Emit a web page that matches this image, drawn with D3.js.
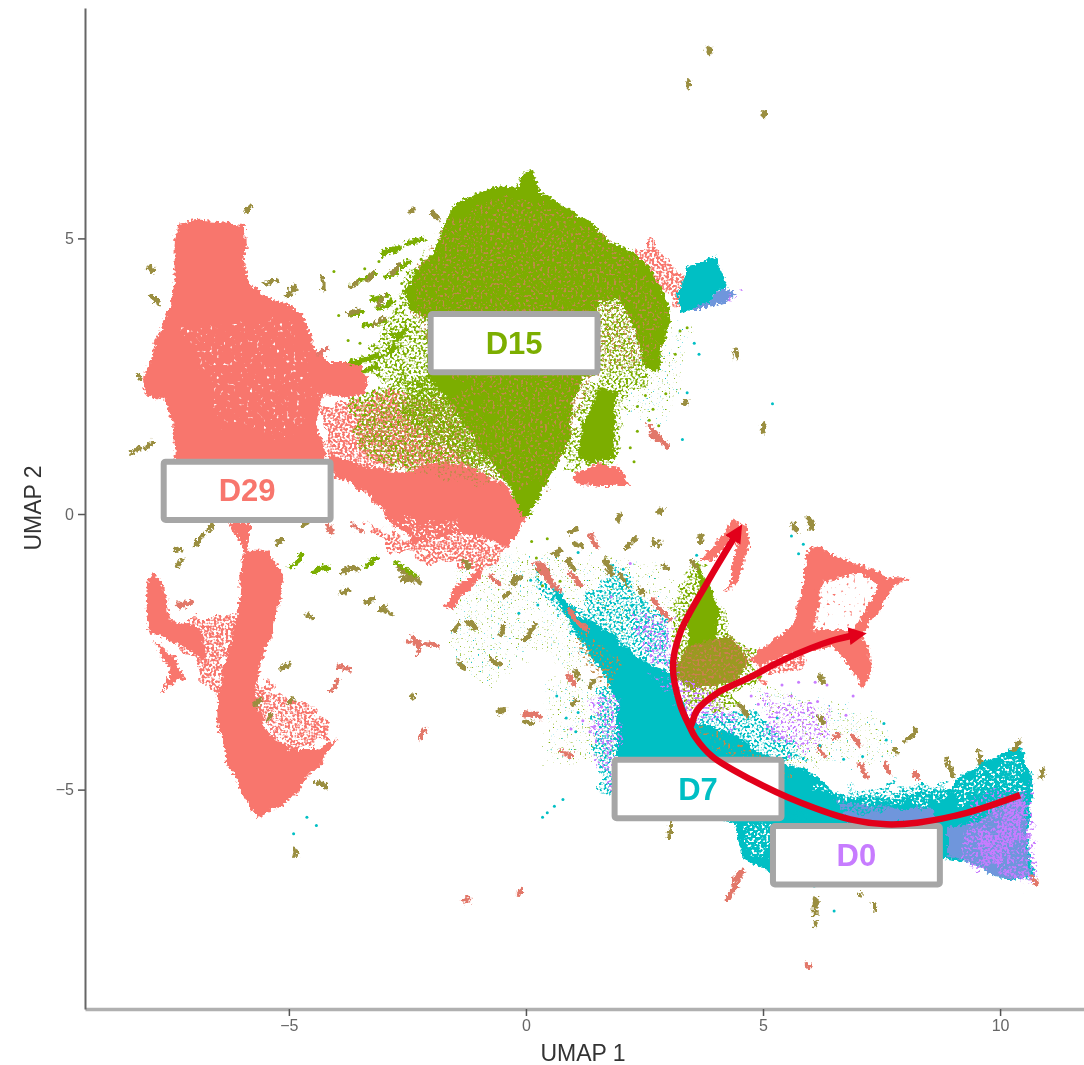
<!DOCTYPE html>
<html><head><meta charset="utf-8"><script src="https://cdn.jsdelivr.net/npm/d3@7/dist/d3.min.js"></script>
<style>html,body{margin:0;padding:0;background:#fff}svg{display:block}text{font-family:"Liberation Sans",Arial,sans-serif}</style></head>
<body><svg id="c" width="1084" height="1065"></svg>
<script>
const xTicks=[-5,0,5,10], yTicks=[-5,0,5];
const dayLabels=["D29","D15","D7","D0"];
const labelCentres=[[-5.88,0.42],[-0.25,3.10],[3.63,-4.99],[6.97,-6.19]];
const trajectoryStem=[[10.42,-5.1],[9.3,-5.42],[8.25,-5.6],[7.6,-5.63],[6.84,-5.54],[5.8,-5.24],[4.75,-4.82],[3.93,-4.4],[3.57,-4.05],[3.46,-3.87],[3.25,-3.45],[3.1,-2.78],[3.25,-2.16],[3.82,-1.25],[4.46,-.33]];
const trajectoryBranch=[[3.46,-3.87],[3.5,-3.8],[3.61,-3.56],[4.03,-3.25],[4.73,-2.96],[5.42,-2.65],[6.48,-2.29],[7,-2.19]];

const d29Solid=[
[[-7.34,5.26],[-6.88,5.32],[-5.93,5.26],[-5.91,4.88],[-5.97,4.57],[-5.82,4.21],[-5.57,3.96],[-4.98,3.79],[-4.7,3.59],[-4.56,3.25],[-4.43,2.94],[-4.14,2.76],[-3.46,2.76],[-3.33,2.47],[-3.46,2.16],[-3.82,2.11],[-4.3,2.14],[-4.43,1.71],[-4.3,1.25],[-4.14,.8],[-4.77,.62],[-7.41,.62],[-7.41,1.52],[-7.62,2.03],[-8,2.16],[-8.08,2.43],[-7.89,2.98],[-7.55,3.7],[-7.41,4.07],[-7.41,4.88]],
[[-4.14,1.07],[-3.3,.85],[-2.51,.75],[-1.9,.95],[-1.33,.9],[-.49,.6],[.02,-.05],[-.4,-.6],[-1.33,-.34],[-2.38,-.53],[-2.93,-.05],[-3.44,.44],[-4.07,.67]],
[[-6.24,-.16],[-5.82,-.16],[-5.89,-.65],[-5.46,-.65],[-5.19,-1.02],[-5.13,-1.43],[-5.4,-2.29],[-5.68,-2.96],[-5.68,-3.5],[-5.4,-4.05],[-4.83,-4.28],[-4.41,-4.28],[-3.97,-4.05],[-4.41,-4.59],[-5.04,-5.25],[-5.68,-5.5],[-5.97,-5.14],[-6.31,-4.47],[-6.5,-3.87],[-6.52,-3.32],[-6.41,-2.83],[-6.2,-2.29],[-6.1,-1.8],[-6.03,-1.2],[-5.97,-.65]],
[[-7.87,-1.07],[-7.66,-1.32],[-7.51,-1.87],[-6.84,-2.11],[-6.7,-2.7],[-7.09,-2.52],[-7.66,-2.23],[-7.93,-2.16],[-8,-1.69],[-7.97,-1.2]],
[[-7.85,-2.3],[-7.4,-2.6],[-7.2,-3],[-7.35,-3],[-7.66,-3.25],[-7.5,-2.8],[-7.72,-2.5]],
[[3.67,-.89],[4.37,-.11],[4.66,-.24],[4.68,-.6],[4.45,-1.25],[4.24,-1.43],[4.37,-.96],[4.47,-.53],[4.37,-.38],[3.95,-.83]],
[[4.66,-2.65],[5.63,-2.05],[5.82,-1.38],[5.99,-.6],[6.2,-.53],[6.48,-.74],[7.68,-1.14],[8.1,-1.16],[7.74,-1.32],[7.41,-1.8],[7.11,-2.16],[7.32,-2.78],[7.11,-3.19],[6.84,-2.78],[6.48,-2.41],[5.42,-2.52],[4.94,-2.78]],
[[.93,.67],[1.5,.93],[1.92,.85],[2.19,.53],[1.56,.49],[1.14,.53]],
[[-.95,-1],[-1,-1.2],[-1.55,-1.72],[-1.75,-1.65],[-1.4,-1.2]]
];
const loopHole=[[6.27,-1.25],[7.05,-1.07],[7.47,-1.32],[7.11,-1.8],[6.9,-2.11],[6.05,-2.11],[6.14,-1.69]];
const d15Solid=[
[[-1.75,5.21],[-1.54,5.57],[-1.12,5.79],[-.55,5.94],[-.17,5.92],[-.08,6.21],[.15,6.24],[.3,5.84],[.65,5.66],[1.29,5.34],[1.77,4.94],[2.26,4.74],[2.68,4.37],[2.97,3.94],[3.04,3.58],[2.89,3.03],[2.76,2.56],[2.51,2.65],[2.32,3.21],[1.98,3.88],[1.56,3.88],[1.5,3.52],[1.5,2.52],[1.24,2.47],[.99,2.07],[.93,1.34],[.61,.8],[.3,.34],[.08,-.05],[-.08,-.07],[-.35,.5],[-.75,.95],[-1.2,1.5],[-1.7,2.1],[-2.07,2.47],[-2.07,3.52],[-2.45,3.7],[-2.51,4.07],[-2.34,4.43],[-1.96,4.74]],
[[1.56,2.3],[1.92,2.25],[1.84,1.4],[1.92,1.03],[1.35,.93],[1.08,1.11],[1.2,1.58]],
[[3.61,-.89],[3.84,-1.25],[4.09,-1.8],[3.95,-2.34],[3.4,-2.42],[3.4,-2.05],[3.67,-1.38]]
];
const d15Dense=[[[-2.7,2.5],[-1.7,2.5],[-1.2,1.6],[-.7,.9],[-1.2,.95],[-2,1.3],[-2.6,1.8]]];
const oliveSolid=[[[3.1,-2.72],[3.4,-2.42],[3.82,-2.29],[4.37,-2.23],[4.68,-2.59],[4.51,-2.96],[3.95,-3.14],[3.46,-3.14],[3.2,-3]]];
const d7Solid=[
[[.6,-1.35],[1.08,-1.8],[1.77,-2.16],[2.47,-2.65],[3.1,-2.89],[3.46,-3.74],[4.37,-3.97],[4.94,-4.34],[5.93,-4.65],[6.48,-5.01],[6.98,-5.14],[7.68,-5.14],[8.25,-5.01],[8.95,-4.95],[9.3,-4.7],[10,-4.37],[10.42,-4.16],[10.57,-4.52],[10.7,-4.88],[10.57,-5.79],[10.74,-6.64],[10,-6.59],[9.3,-6.33],[8.8,-6.23],[5.15,-6.52],[4.58,-6.23],[4.37,-5.61],[3.67,-5.5],[1.92,-5],[1.92,-4.23],[1.92,-3.38],[1.62,-2.89],[1.08,-2.16],[.6,-1.5]],
[[3.52,4.55],[3.99,4.66],[4.24,4.12],[3.67,3.76],[3.25,3.65],[3.19,4.01],[3.4,4.48]]
];
const blueMix=[
[[10.49,-5.07],[10.63,-6.59],[10,-6.59],[9.3,-6.33],[8.88,-6.15],[8.88,-5.73],[9.64,-5.5]],
[[6.48,-5.19],[7.3,-5.3],[8.59,-5.37],[8.59,-5.61],[6.84,-5.61]],
[[3.52,3.7],[4.2,4.07],[4.45,3.97],[4.26,3.88],[3.67,3.7]]
];
const d0Solid=[
[[10.4,-5.15],[10.55,-5.9],[10.1,-6],[9.85,-5.6]],
[[9.3,-5.8],[10.2,-5.8],[10.25,-6.3],[9.6,-6.25]],
[[10,-6.4],[10.65,-6.55],[10.6,-6.7],[10.05,-6.6]],
[[4.25,3.98],[4.45,3.97],[4.3,3.86]]
];
const d15Speck=[
[[-3.4,2.6],[-3.1,3.3],[-2.75,3.7],[-2.45,4.4],[-2.1,4.7],[-2.45,3.7],[-2.07,3.5],[-2.07,2.4],[-2.8,2.3]],
[[-3.8,2.2],[-1.5,2.5],[-.9,2],[-.4,1.2],[-.25,.5],[-1.3,.9],[-2.5,.75],[-3.5,1.1]],
[[1.5,3.95],[1.98,3.9],[2.32,3.21],[2.55,2.6],[2.5,2.2],[1.5,2.5]],
[[1.24,2.47],[2.2,2.4],[2.05,1.6],[1.9,.95],[1.35,.93],[.75,.7],[.95,1.4]],
[[3.2,-1.2],[3.6,-.9],[4.2,-1.8],[4.3,-2.3],[4.9,-2.4],[4.9,-3],[4,-3.6],[3.3,-3.4],[3.1,-2.6]]
];
const d29Speck=[
[[-4.4,1.9],[-3.6,2.1],[-2.6,2.2],[-1.6,2],[-1.4,1.3],[-1.2,.9],[-2.5,.8],[-4.1,1]],
[[-3.4,-.1],[-2.4,-.5],[-1.3,-.35],[-.4,-.6],[-.7,-1],[-1.8,-.9],[-2.9,-.6]],
[[-7.51,-1.87],[-6.52,-1.87],[-6.1,-1.8],[-6.41,-2.83],[-6.52,-3.32],[-6.77,-3],[-7.09,-2.57],[-7.51,-2.1]],
[[-5.6,-2.9],[-5.1,-3.3],[-4.4,-3.6],[-3.97,-4.05],[-5,-4.3],[-5.7,-3.7]],
[[5.9,-2.5],[4.9,-2.6],[4.9,-3],[5.9,-2.8]],
[[2.3,4.9],[2.8,4.9],[3.3,4.3],[3.3,3.8],[2.4,4.3]]
];
const loopInner=[[6.1,-2.1],[7.1,-2.1],[7.45,-1.3],[7.05,-1],[6.7,-1.1],[6.2,-1.3]];
const mixSpeck=[
[[-1.75,5.21],[-.55,5.8],[.65,5.6],[2.2,4.7],[2.9,3.8],[2.7,2.7],[1.5,2.6],[.9,1.3],[.4,.5],[-.4,.6],[-.9,2],[-1.5,2.5],[-2.4,3.6],[-2.3,4.4]],
[[-2.6,2.1],[-1.2,2.2],[-.5,1],[-.5,.5],[-2,.7],[-3.3,.9],[-3.6,1.6]],
[[1.2,-2],[2,-2.7],[1.7,-3.2],[1,-2.4]],
[[3.5,-3.8],[5,-4.4],[5.8,-4.7],[5.3,-4.7],[4.2,-4.3]]
];
const d7Speck=[
[[1,-1.8],[1.9,-.95],[2.9,-1.9],[3.1,-2.9],[2.4,-2.65],[1.7,-2.2]],
[[.1,-.9],[.9,-1.7],[1.5,-2.9],[.9,-2],[.2,-1.3]],
[[3.4,-3.7],[4.8,-3.5],[6,-4.5],[5,-4.5]],
[[5,-5.5],[6.5,-5.1],[7,-5],[8.6,-4.9],[9,-4.8],[8.6,-5.2],[6,-5.6]],
[[1.5,-3.2],[1.9,-3.2],[1.9,-5],[1.5,-5]]
];
const d0Speck=[
[[2.6,-2.9],[4,-3.2],[4.5,-3.9],[3.6,-3.8]],
[[1.3,-3.2],[1.95,-3.4],[1.9,-5],[1.6,-4.8]],
[[5,-3.3],[6.5,-3.6],[6,-4.4],[5,-4]],
[[9.3,-5.2],[10.7,-4.9],[10.75,-6.7],[9.3,-6.35]],
[[2.2,-1.6],[3.1,-2],[3.2,-3],[2.5,-2.6]]
];
const whiteFew=[[[-7.2,3.4],[-5,3.5],[-4.4,2.3],[-5,1.3],[-6.5,1.7]]];
const whiteGaps=[
[[-2.8,-.05],[-2,-.2],[-1.3,-.05],[-1.4,-.35],[-2.3,-.45]],
[[-5.4,-3.3],[-4.4,-3.9],[-5,-4.2],[-5.5,-3.9]],
[[6,-4.9],[9,-5],[9.9,-4.5],[10.5,-4.3],[10.5,-5],[8,-5.3],[6.6,-5.2]],
[[4.6,-5.6],[5.1,-5.6],[5.1,-6.2],[4.7,-6.2]]
];
const haze=[
[[-.6,-.7],[2.8,-.9],[3.4,-2],[2,-2.2],[1,-2.9],[0,-2.3]],
[[-1.5,-1],[-.2,-.6],[.2,-2.4],[-.8,-3.2],[-1.6,-2.5]],
[[.4,-3],[1.9,-3],[1.9,-4.6],[.4,-4.5]],
[[4.8,-3.1],[7.5,-3.7],[7.8,-4.5],[5.5,-4.6]],
[[2.2,3.4],[3.4,3.4],[3.2,2.2],[2.8,1.6],[2.1,1.8]]
];
const greenDabs=[[-3.02,4.7,-2.66,4.85],[-2.55,4.92,-2.17,4.97],[-3.71,4.16,-3.19,4.34],[-3.25,3.88,-2.91,3.97],[-3.12,3.74,-2.83,3.83],[-3.67,3.61,-3.46,3.67],[-3.4,3.43,-2.97,3.48],[-2.83,3.3,-2.72,3.25],[-3.71,2.76,-3.08,2.87],[-2.7,-.9,-2.3,-1.15],[-4.95,-.92,-4.72,-.75],[-4.45,-1.05,-4.2,-1],[-3.4,-.95,-3.2,-.8],[-2.7,3.2,-2.55,3.35],[-2.9,2.95,-2.75,3.05],[-3.35,2.6,-3.2,2.68],[-2.95,4.3,-2.75,4.4],[-2.6,4.45,-2.45,4.55]];
const olivePts=[[3.84,8.37,3.88,8.42],[3.42,7.74,3.46,7.82],[4.98,7.2,5.03,7.28],[4.41,2.94,4.43,2.85],[4.98,1.66,4.96,1.52],[3.31,2.01,3.35,2.06],[-7.97,4.48,-7.85,4.42],[-7.92,3.95,-7.75,3.85],[-8.19,2.5,-8.15,2.45],[-8.3,1.12,-8.15,1.2],[-8.02,1.2,-7.9,1.28],[-5.89,5.48,-5.82,5.55],[-2.45,5.48,-2.35,5.55],[-1.95,5.44,-1.85,5.36],[-5.5,4.2,-5.3,4.25],[-5.02,3.97,-4.9,4.1],[-4.3,4.1,-4.3,4.25],[-3.72,4.14,-3.58,4.2],[-3.35,4.25,-3.22,4.36],[-3.1,3.85,-3,3.95],[-3.7,3.62,-3.55,3.7],[-3.2,3.45,-3,3.53],[-2.85,4.4,-2.7,4.5],[-3.85,-1.05,-3.55,-.98],[-2.65,-1,-2.2,-1.25],[-2.6,-1.2,-2.4,-1.15],[-3.9,-1.42,-3.8,-1.38],[-4.62,-1.87,-4.5,-1.9],[-3.33,-1.62,-3.25,-1.55],[-3.04,-1.76,-3,-1.68],[-5.15,-2.8,-5,-2.72],[-2.4,-3.34,-2.35,-3.3],[-5.44,-3.72,-5.38,-3.62],[-5.7,-3.45,-5.62,-3.35],[-4.98,-3.43,-4.92,-3.37],[-7.35,-.98,-7.25,-.85],[-7.42,-.65,-7.3,-.6],[-6.95,-.55,-6.85,-.4],[-6.7,-.28,-6.6,-.2],[-4.7,-.22,-4.6,-.18],[-5.2,-.55,-5.15,-.48],[-1.3,-.82,-1.2,-.95],[-2.62,-1.14,-2.35,-1.2],[-2.95,-1.75,-2.8,-1.8],[-.25,-1.25,-.1,-1.15],[.25,-1.05,.45,-1],[1.03,-.56,1.15,-.6],[2.1,-.58,2.35,-.48],[2.78,.04,2.85,.1],[2.41,-1.38,2.48,-1.42],[2.93,-.93,3,-.98],[3.52,-.9,3.6,-1],[1.92,-.11,1.98,-.05],[.9,-.35,1.1,-.3],[2.7,-.52,2.8,-.55],[3.65,-.4,3.68,-.5],[.58,-.75,.72,-.67],[.92,-.82,1.02,-1],[1.68,-.85,1.82,-1.1],[2,-1.1,2.12,-1.28],[-.02,-2.28,.2,-2.05],[-.45,-1.5,-.35,-1.4],[-.55,-2.2,-.45,-2],[-.6,-3.6,-.45,-3.55],[0,-3.75,.12,-3.8],[.97,-3.45,1.05,-3.4],[1.35,-3.15,1.45,-3.05],[4.52,-3.48,4.68,-3.68],[6.2,-3.7,6.3,-3.8],[6.22,-2.93,6.27,-3],[5.93,-.08,6.02,-.26],[5.62,-.22,5.7,-.3],[8.02,-4.12,8.22,-3.92],[7.75,-4.3,7.85,-4.35],[8.88,-4.45,8.98,-4.75],[9.52,-4.33,9.62,-4.52],[10.3,-4.25,10.45,-4.1],[10.85,-4.75,10.9,-4.65],[3.05,-5.58,3.04,-5.85],[6.1,-7,6.1,-7.25],[6.1,-7.42,6.1,-7.45],[7.3,-7.08,7.33,-7.15],[7.05,-6.9,7.07,-6.93],[-.7,-2.6,-.6,-2.72],[-1.5,-2.1,-1.42,-2.02],[-1.2,-1.95,-1.1,-2.05],[-1.42,-2.7,-1.33,-2.8],[1.05,-2.88,1.12,-2.95],[-4.4,-4.85,-4.25,-4.95],[-4.9,-6.08,-4.85,-6.18]];
const salmonPts=[[-4.2,-.2,-4.05,-.35],[-3.65,-.2,-3.45,-.3],[-4.4,2.9,-4.2,3],[-7.3,-1.65,-7.05,-1.6],[-2.5,-2.3,-1.9,-2.42],[-2.35,-2.2,-2.25,-2.55],[-3.9,-2.75,-3.72,-2.85],[-4.08,-3.18,-3.98,-3.02],[-2.22,-4.08,-2.12,-3.92],[-1.3,-7.04,-1.2,-7],[-.16,-6.9,-.1,-6.86],[-.02,-3.62,.28,-3.68],[.72,-4.3,.98,-4.4],[.88,-2.92,1.02,-3.08],[4.25,-6.98,4.55,-6.48],[5.93,-8.15,5.98,-8.18],[6.2,-4.25,6.3,-4.4],[7.02,-4.53,7.18,-4.77],[7.6,-4.55,7.68,-4.7],[6.48,-4.05,6.6,-4],[6.9,-4.05,7,-4.15],[10.65,-6.6,10.75,-6.7],[1.37,-.37,1.48,-.58],[2.68,-1.55,3,-1.9],[.92,-1.08,1.13,-1.32],[2.66,1.43,2.95,1.25],[2.6,1.6,2.75,1.4],[-.75,-1.1,-.55,-1.25],[.32,-.92,.52,-1.18],[8.2,-4.7,8.3,-4.8],[.2,-.9,.7,-1.4],[.9,-1.75,1.3,-2.1]];
const d15Pts=[[-3.3,2.62],[-3.5,3.1],[-3.22,3.9],[-2.9,3.1],[-2.72,3.72],[-2.55,2.9],[-2.3,3.3],[-2.62,4.18],[-2.21,4.62],[-3.1,2.52],[-3.75,3.15],[-3.95,3.6],[-4.05,4.4],[-3.1,4.58],[-3.4,4.45],[.12,-.5],[.22,-.8],[.45,-.45],[.35,-1.3],[.72,-1.22],[2.52,2.15],[2.35,1.95],[2.6,1.7],[2.8,1.6],[2.95,2.18],[3.15,2.9],[3.25,3.32],[3.4,3.38],[2.68,1.9],[2.2,1.2],[2.28,.95],[2.35,1.5]];
const d7Pts=[[-4.62,-5.5],[-4.42,-5.65],[-4.9,-5.8],[.35,-5.5],[.6,-5.3],[.45,-5.42],[.78,-5.18],[1.1,-3.6],[1.05,-3.95],[.65,-3.3],[.85,-3.7],[3.6,-.75],[5.6,-.4],[5.85,-.55],[5.75,-.72],[2.05,-1],[2.45,-1.6],[2.25,-1.65],[.55,-1.55],[.25,-1.65],[.1,-1.2],[-.15,-1.8],[1.1,-.7],[4.85,-3.6],[5.3,-3.7],[6.2,-4.2],[6.7,-4.45],[7.1,-4.4],[6.5,-7.2],[3.65,2.9],[3.55,3.1],[3.4,2.2],[3.3,1.35],[5.2,2],[6.15,-6.6],[6.08,-6.75],[7.55,-3.8],[7.6,-4.1]];
const d0Pts=[[1.6,-3.5],[1.2,-3.75],[.95,-3.9],[1.35,-3.95],[1.45,-3.85],[1.85,-3.3],[4.75,-3.3],[4.9,-3.45],[5.6,-3.3],[5.75,-3.05],[5.4,-3.1],[6.1,-3.05],[6.35,-3.1],[5.2,-3.9],[5.4,-4.05],[6.9,-3.3],[2.2,-.9],[2.5,-2.05],[1.8,-1.5],[6.15,-3.4],[5.55,-4.4],[6.75,-3.65]];

const svg=d3.select("#c");
const x=d3.scaleLinear().domain([-9.3,11.77]).range([85,1084]);
const y=d3.scaleLinear().domain([-8.98,9.18]).range([1009,8]);
const colours={d29:"#F8766D",d15:"#7CAE00",d7:"#00BFC4",d0:"#C77CFF",blue:"#6f96dc",olive:"#9a9a20",mix:"#c08a4a",brown:"#9a8e40"};
const defs=svg.append("defs");
const fattr={filterUnits:"userSpaceOnUse",x:0,y:0,width:1084,height:1065};
function newFilter(id){const f=defs.append("filter").attr("id",id).attr("color-interpolation-filters","sRGB");Object.entries(fattr).forEach(([k,v])=>f.attr(k,v));return f;}
function addFilter(id,seed,freq,gain,off,blur){
  const f=newFilter(id);
  f.append("feTurbulence").attr("type","fractalNoise").attr("baseFrequency",.07).attr("numOctaves",2).attr("seed",seed+20).attr("result","w");
  f.append("feDisplacementMap").attr("in","SourceGraphic").attr("in2","w").attr("scale",28).attr("xChannelSelector","R").attr("yChannelSelector","G").attr("result","sg");
  f.append("feTurbulence").attr("type","fractalNoise").attr("baseFrequency",freq).attr("numOctaves",1).attr("seed",seed).attr("result","n");
  f.append("feColorMatrix").attr("in","n").attr("type","matrix").attr("values",`0 0 0 0 0 0 0 0 0 0 0 0 0 0 0 ${gain} 0 0 0 ${off}`).attr("result","m");
  f.append("feComposite").attr("in","sg").attr("in2","m").attr("operator","in").attr("result","s");
  f.append("feGaussianBlur").attr("in","s").attr("stdDeviation",blur);
}
addFilter("spDense",3,.42,7,-2.9,.45);
addFilter("spMid",7,.42,7,-3.3,.45);
addFilter("spSparse",11,.42,8,-4.2,.45);
addFilter("spMix",13,.42,8,-4.4,.5);
addFilter("spFew",19,.3,9,-5.9,.5);
addFilter("spHaze",29,.55,9,-5.9,.55);
addFilter("spHaze2",31,.55,9,-6.2,.55);
const rough=newFilter("rough");
rough.append("feTurbulence").attr("type","fractalNoise").attr("baseFrequency",.07).attr("numOctaves",1).attr("seed",2).attr("result","w");
rough.append("feDisplacementMap").attr("in","SourceGraphic").attr("in2","w").attr("scale",9).attr("xChannelSelector","R").attr("yChannelSelector","G").attr("result","a");
rough.append("feTurbulence").attr("type","fractalNoise").attr("baseFrequency",.38).attr("numOctaves",1).attr("seed",5).attr("result","n");
rough.append("feDisplacementMap").attr("in","a").attr("in2","n").attr("scale",8).attr("xChannelSelector","R").attr("yChannelSelector","G").attr("result","d");
rough.append("feGaussianBlur").attr("in","d").attr("stdDeviation",.55);
const soft=newFilter("soft");
soft.append("feGaussianBlur").attr("stdDeviation",.6);
const textSoft=newFilter("textSoft");
textSoft.append("feGaussianBlur").attr("stdDeviation",.45);

const area=d3.line().x(d=>x(d[0])).y(d=>y(d[1])).curve(d3.curveLinearClosed);
function polys(list,fill,filter,op){
  svg.append("g").attr("filter",`url(#${filter})`).attr("opacity",op||1).selectAll("path").data(list).join("path").attr("d",area).attr("fill",fill);
}
polys(haze,colours.d15,"spHaze");
polys(haze,colours.d7,"spHaze2");
polys(d29Speck,colours.d29,"spDense");
polys(d15Speck,colours.d15,"spMid");
polys(d29Solid,colours.d29,"rough");
polys([loopHole],"#fff","rough");
polys([loopInner],colours.d29,"spFew");
polys(d15Dense,colours.d15,"spDense");
polys(d15Solid,colours.d15,"rough");
polys(oliveSolid,colours.olive,"rough");
polys(oliveSolid,"#c9804f","spSparse");
polys(d7Solid,colours.d7,"rough");
polys(blueMix,colours.blue,"rough");
polys(d7Speck,colours.d7,"spMid");
polys(d0Speck,colours.d0,"spSparse");
polys(d0Solid,colours.d0,"spDense");
polys(mixSpeck,colours.mix,"spMix");
polys(whiteFew,"#fff","spFew");
polys(whiteGaps,"#fff","spSparse");

const dabs=svg.append("g").attr("filter","url(#rough)").attr("fill","none").attr("stroke-linecap","round");
function streaks(list,c,w){dabs.append("g").attr("stroke",c).attr("stroke-width",w).selectAll("line").data(list).join("line").attr("x1",d=>x(d[0])).attr("y1",d=>y(d[1])).attr("x2",d=>x(d[2])).attr("y2",d=>y(d[3]));}
streaks(greenDabs,colours.d15,5);
streaks(olivePts,colours.brown,5);
streaks(salmonPts,"#e2786a",5);
function dots(list,c){svg.append("g").attr("filter","url(#soft)").attr("fill",c).selectAll("circle").data(list).join("circle").attr("cx",d=>x(d[0])).attr("cy",d=>y(d[1])).attr("r",1.5);}
dots(d15Pts,colours.d15);dots(d7Pts,colours.d7);dots(d0Pts,colours.d0);

// axes
const fmt=d=>d<0?"\u2212"+(-d):d;
const axes=svg.append("g").attr("filter","url(#textSoft)");
const ax=axes.append("g").attr("transform","translate(0,1009)").call(d3.axisBottom(x).tickValues(xTicks).tickFormat(fmt).tickSize(7).tickSizeOuter(0).tickPadding(4));
ax.select(".domain").attr("stroke","#b0b0b0").attr("stroke-width",3.5);
const ay=axes.append("g").attr("transform","translate(85,0)").call(d3.axisLeft(y).tickValues(yTicks).tickFormat(fmt).tickSize(7).tickSizeOuter(0).tickPadding(4));
ay.select(".domain").attr("stroke","#666").attr("stroke-width",2);
[ax,ay].forEach(a=>{a.selectAll(".tick line").attr("stroke","#555").attr("stroke-width",1.5);a.selectAll("text").attr("font-size",16).attr("fill","#666").attr("font-family","Liberation Sans");});
axes.append("text").attr("x",583).attr("y",1061).attr("text-anchor","middle").attr("font-size",23).attr("fill","#333").text("UMAP 1");
axes.append("text").attr("transform","translate(41,508) rotate(-90)").attr("text-anchor","middle").attr("font-size",23).attr("fill","#333").text("UMAP 2");

// label boxes
const boxW=3.52,boxH=1.06;
const lab=svg.append("g").selectAll("g").data(dayLabels).join("g");
lab.append("rect").attr("x",(d,i)=>x(labelCentres[i][0]-boxW/2)).attr("y",(d,i)=>y(labelCentres[i][1]+boxH/2)).attr("width",x(boxW)-x(0)).attr("height",y(0)-y(boxH)).attr("rx",2).attr("fill","#fff").attr("stroke","#a6a6a6").attr("stroke-width",6);
lab.append("text").attr("x",(d,i)=>x(labelCentres[i][0])).attr("y",(d,i)=>y(labelCentres[i][1])+10.5).attr("text-anchor","middle").attr("font-size",31).attr("font-weight","bold").attr("fill",(d,i)=>[colours.d29,colours.d15,"#00BFC4",colours.d0][i]).text(d=>d);

// trajectories
const red="#e2001a";
const mk=defs.append("marker").attr("id","arrow").attr("markerUnits","userSpaceOnUse").attr("markerWidth",24).attr("markerHeight",24).attr("refX",9).attr("refY",9).attr("orient","auto");
mk.append("path").attr("d","M0,0L18,9L0,18Z").attr("fill",red);
const tr=d3.line().x(d=>x(d[0])).y(d=>y(d[1])).curve(d3.curveCatmullRom.alpha(.5));
[trajectoryStem,trajectoryBranch].forEach(t=>svg.append("path").attr("d",tr(t)).attr("fill","none").attr("stroke",red).attr("stroke-width",6.5).attr("marker-end","url(#arrow)"));
</script></body></html>
